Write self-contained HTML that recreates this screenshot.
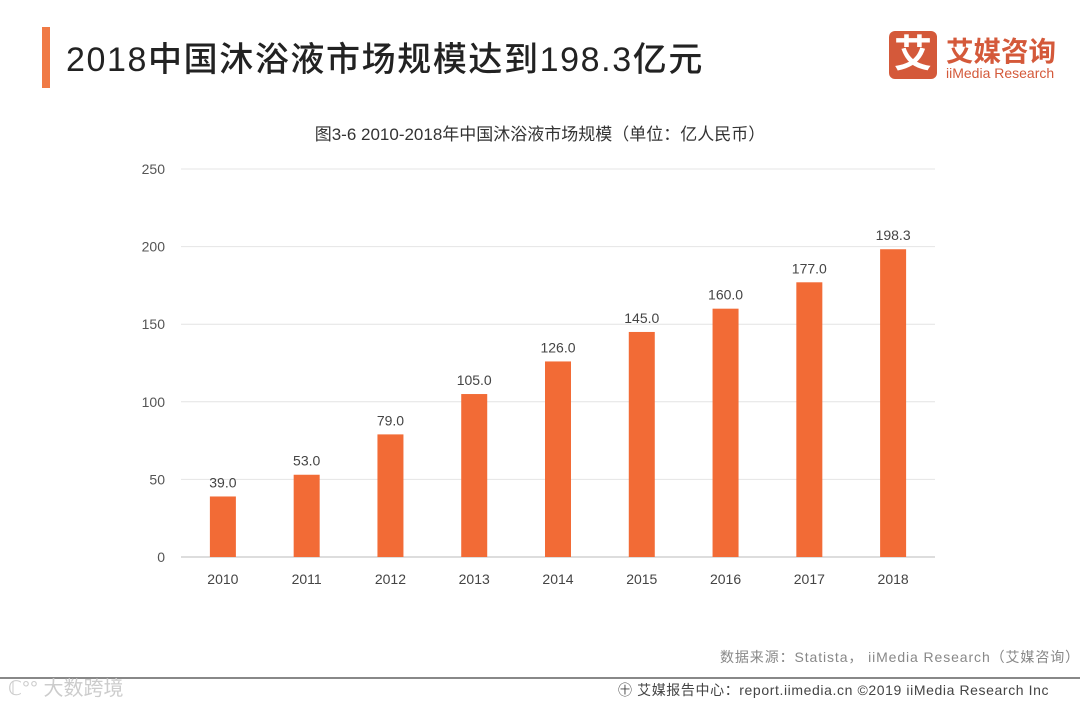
<!DOCTYPE html>
<html><head><meta charset="utf-8"><style>
body{margin:0;width:1080px;height:702px;background:#fff;overflow:hidden;font-family:"Liberation Sans","Noto Sans CJK SC",sans-serif;position:relative}
.abs{position:absolute}
</style></head><body>
<div class="abs" style="left:42px;top:27px;width:8px;height:61px;background:#f07a45"></div>
<div class="abs" style="left:66px;top:32px;font-size:34px;letter-spacing:1.6px;color:#222;font-weight:500;white-space:nowrap">2018中国沐浴液市场规模达到198.3亿元</div>
<div class="abs" style="left:889px;top:31px;width:48px;height:48px;background:#d4593a;border-radius:6px;color:#fff;font-size:38px;font-weight:bold;text-align:center;line-height:48px">艾</div>
<div class="abs" style="left:946px;top:29px;color:#d4593a;font-size:27.5px;font-weight:bold;white-space:nowrap">艾媒咨询</div>
<div class="abs" style="left:946px;top:65px;color:#d4593a;font-size:14px;white-space:nowrap">iiMedia Research</div>
<svg class="abs" style="left:0;top:0" width="1080" height="702">
<text x="540" y="140" text-anchor="middle" font-size="17" fill="#333">图3-6 2010-2018年中国沐浴液市场规模（单位：亿人民币）</text>
<g id="grid"></g><g id="bars"></g>
</svg>
<div class="abs" style="left:720px;top:647px;font-size:14px;letter-spacing:0.9px;color:#888;white-space:nowrap">数据来源：Statista， iiMedia Research（艾媒咨询）</div>
<div class="abs" style="left:0;top:677px;width:1080px;height:2px;background:#888"></div>
<div class="abs" style="left:8px;top:672px;font-size:20px;color:#ccc;white-space:nowrap">ℂ°° 大数跨境</div>
<div class="abs" style="left:618px;top:680px;font-size:14px;letter-spacing:0.6px;color:#444;white-space:nowrap">㊉ 艾媒报告中心：report.iimedia.cn ©2019 iiMedia Research Inc</div>
<script>
const categories=["2010","2011","2012","2013","2014","2015","2016","2017","2018"];
const values=[39.0,53.0,79.0,105.0,126.0,145.0,160.0,177.0,198.3];
const yTicks=[0,50,100,150,200,250];
const NS="http://www.w3.org/2000/svg";
const x0=181,x1=935,yb=557,yt=169,ymax=250;
const band=(x1-x0)/categories.length;
const xc=i=>x0+band*(i+0.5);
const ys=v=>yb-(v/ymax)*(yb-yt);
function mk(t,a,p){const e=document.createElementNS(NS,t);for(const k in a)e.setAttribute(k,a[k]);p.appendChild(e);return e;}
const g=document.getElementById('grid'),b=document.getElementById('bars');
yTicks.forEach(v=>{
 const l=mk('line',{x1:x0,x2:x1,y1:ys(v),y2:ys(v),stroke:v===0?'#bbb':'#e4e4e4','stroke-width':1},g);
 
 
 const t=mk('text',{x:165,y:ys(v)+5,'text-anchor':'end','font-size':14,fill:'#555'},g);t.textContent=v;
 
 
});
categories.forEach((c,i)=>{
 const r=mk('rect',{x:xc(i)-13,y:ys(values[i]),width:26,height:yb-ys(values[i]),fill:'#f26b36'},b);
 
 
 const v=mk('text',{x:xc(i),y:ys(values[i])-9,'text-anchor':'middle','font-size':14,fill:'#444'},b);v.textContent=values[i].toFixed(1);
 
 
 const t=mk('text',{x:xc(i),y:584,'text-anchor':'middle','font-size':14,fill:'#444'},b);t.textContent=c;
 
 
});
</script>
</body></html>
